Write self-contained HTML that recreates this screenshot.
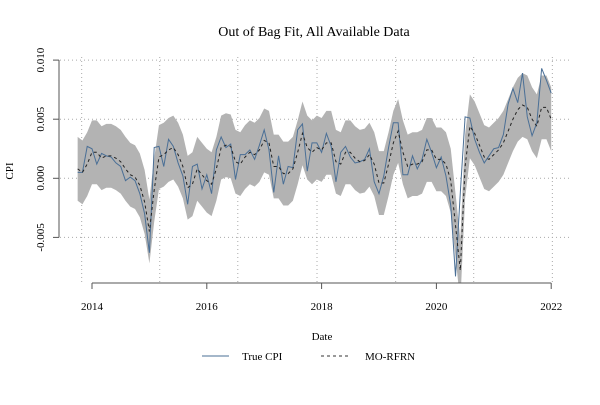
<!DOCTYPE html>
<html><head><meta charset="utf-8"><style>
body{margin:0;background:#fff}
svg text{font-family:"Liberation Serif",serif;fill:#000}
</style></head><body>
<svg id="chart" width="600" height="400" viewBox="0 0 600 400">
<rect width="600" height="400" fill="#fff"/>
<text x="314" y="36" font-size="14" text-anchor="middle">Out of Bag Fit, All Available Data</text>
<defs><clipPath id="pc"><rect x="60" y="40" width="520" height="243"/></clipPath></defs>
<g id="grid"></g>
<g id="plot" clip-path="url(#pc)"></g>
<g id="axes"></g>
<text x="322" y="340" font-size="11" text-anchor="middle">Date</text>
<text transform="translate(13,171) rotate(-90)" font-size="11" text-anchor="middle">CPI</text>
<g>
<g>
<line x1="202" y1="356" x2="229" y2="356" stroke="#4a6f96" stroke-width="1"/>
<text x="242" y="360" font-size="11">True CPI</text></g>
<g>
<line x1="321" y1="356" x2="351" y2="356" stroke="#333" stroke-width="1" stroke-dasharray="3,3"/>
<text x="365" y="360" font-size="11">MO-RFRN</text></g>
</g>
</svg>
<script>
const startYear = 2013.75;
const trueCPI = [5,5,27,25,12,21,19,18,13,10,-2,1,-2,-13,-30,-63,26,27,10,33,27,13,2,-22,10,12,-9,3,-13,24,35,26,29,-1,20,20,24,16,28,41,24,-12,19,-5,10,9,41,46,6,30,30,22,38,27,-3,22,27,18,13,14,16,25,-3,-13,2,26,47,47,3,3,19,8,16,33,22,9,18,2,-23,-83,-12,52,51,33,22,13,19,25,26,37,63,76,64,89,52,36,47,93,83,72];
const predCPI = [8,5,12,22,22,17,19,19,17,14,8,3,1,-6,-20,-45,-10,18,20,24,26,20,10,-8,-5,8,3,-2,-5,8,26,28,27,14,12,18,22,20,24,32,30,10,10,4,4,8,22,38,26,22,26,24,30,30,14,12,22,22,17,14,15,20,12,-4,-4,12,30,40,22,10,12,12,14,24,24,16,16,12,-2,-40,-78,10,44,38,28,18,16,20,24,30,40,50,58,62,60,50,44,60,60,50];
const bandHalf = 27;
const valueScale = 1e-4;
const xTicks = [2014,2016,2018,2020,2022];
const yTicks = [-0.005,0,0.005,0.010];
const yTickLabels = ["-0.005","0.000","0.005","0.010"];
const xGrid = [2013.82,2015.18,2016.54,2017.92,2019.29,2020.65,2022.02];

const NS="http://www.w3.org/2000/svg";
function xs(t){return 92+(t-2014)*57.4;}
function ys(v){return 178.3-v/0.005*59.1;}
function mk(tag,attrs,parent){const e=document.createElementNS(NS,tag);for(const k in attrs)e.setAttribute(k,attrs[k]);parent.appendChild(e);return e;}
const grid=document.getElementById('grid'),plot=document.getElementById('plot'),axes=document.getElementById('axes');
yTicks.forEach(v=>{const l=mk('line',{x1:60,x2:572,y1:ys(v),y2:ys(v),stroke:'#aaa','stroke-dasharray':'1,3'},grid);

});
xGrid.forEach(t=>{const l=mk('line',{x1:xs(t),x2:xs(t),y1:57,y2:283,stroke:'#aaa','stroke-dasharray':'1,3'},grid);

});
const T=i=>startYear+i/12;
let up=[],lo=[];
predCPI.forEach((p,i)=>{up.push(xs(T(i))+','+ys((p+bandHalf)*valueScale));lo.unshift(xs(T(i))+','+ys((p-bandHalf)*valueScale));});
const band=mk('polygon',{points:up.concat(lo).join(' '),fill:'#b3b3b3'},plot);


const tl=mk('polyline',{points:trueCPI.map((v,i)=>xs(T(i))+','+ys(v*valueScale)).join(' '),fill:'none',stroke:'#4a6f96','stroke-width':1},plot);


const pl=mk('polyline',{points:predCPI.map((v,i)=>xs(T(i))+','+ys(v*valueScale)).join(' '),fill:'none',stroke:'#222','stroke-width':1,'stroke-dasharray':'3,3'},plot);


mk('line',{x1:59,x2:59,y1:ys(0.010),y2:ys(-0.005),stroke:'#555'},axes);
yTicks.forEach((v,i)=>{mk('line',{x1:53,x2:59,y1:ys(v),y2:ys(v),stroke:'#555'},axes);
const t=mk('text',{transform:`translate(44,${ys(v)}) rotate(-90)`,'font-size':11,'text-anchor':'middle'},axes);t.textContent=yTickLabels[i];

});
mk('line',{x1:xs(2014),x2:xs(2022),y1:283,y2:283,stroke:'#555'},axes);
xTicks.forEach(y=>{mk('line',{x1:xs(y),x2:xs(y),y1:283,y2:289,stroke:'#555'},axes);
const t=mk('text',{x:xs(y),y:310,'font-size':11,'text-anchor':'middle'},axes);t.textContent=y;

});
</script>
</body></html>
